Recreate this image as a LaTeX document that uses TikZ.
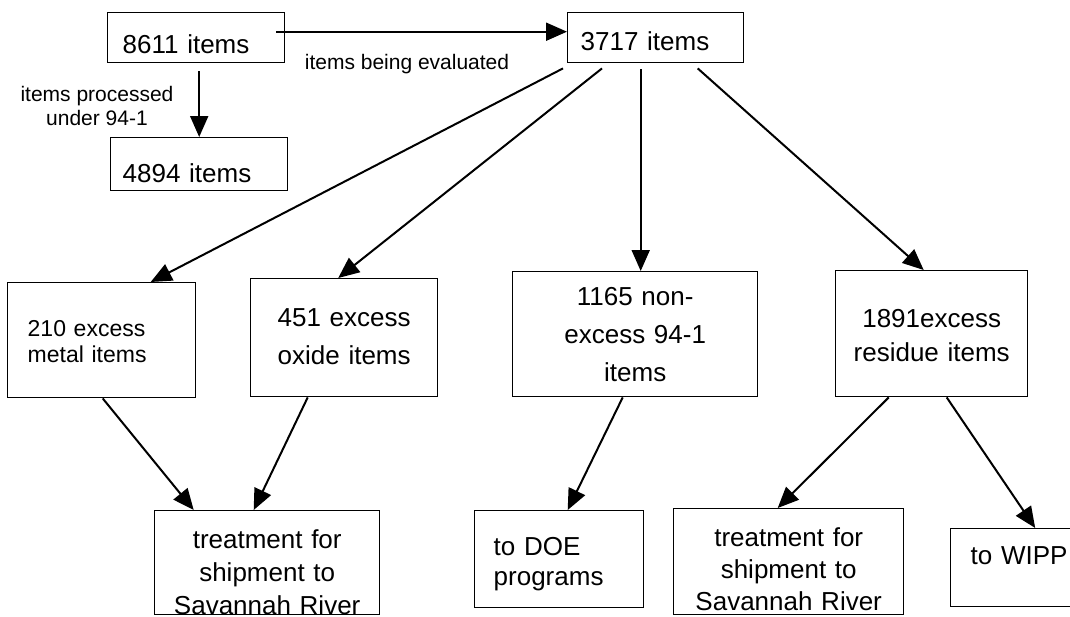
\documentclass[tikz,border=0pt]{standalone}
\usepackage{fontspec}
\setmainfont{Liberation Sans}
\usetikzlibrary{arrows.meta}

\begin{document}
\begin{tikzpicture}[x=1pt,y=-1pt,
  box/.style={draw,line width=1.4pt,anchor=north west,inner ysep=0pt,inner xsep=0pt},
  big/.style={font=\fontsize{26}{33}\selectfont},
  arr/.style={line width=2pt,-{Triangle[length=21pt,width=18pt]}},
  note/.style={font=\fontsize{21}{24}\selectfont,align=center}]
\useasboundingbox[fill=white] (0,0) rectangle (1070,616);
% top row
\node[box,big,align=left,inner xsep=15pt,text width=147pt,text height=41pt,text depth=9pt] (n8611) at (107,12) {8611 items};
\node[box,big,align=left,inner xsep=13pt,text width=150pt,text height=38pt,text depth=12pt] (n3717) at (567,12) {3717 items};
\node[box,big,align=left,inner xsep=12pt,text width=153pt,text height=45pt,text depth=8pt] (n4894) at (110,137) {4894 items};
\node[note] (lblproc) at (97,106) {items processed\\under 94-1};
\node[note] (lbleval) at (407,64) {items being evaluated};
% middle row
\node[box,font=\fontsize{23}{26}\selectfont,align=left,inner xsep=20pt,text width=148pt,text height=54pt,text depth=61pt] (n210) at (7,282) {210 excess\\metal items};
\node[box,font=\fontsize{26}{38}\selectfont,align=center,text width=187pt,text height=48pt,text depth=70pt] (n451) at (250,278) {451 excess\\oxide items};
\node[box,font=\fontsize{26}{38}\selectfont,align=center,text width=245pt,text height=34pt,text depth=91pt] (n1165) at (512,271) {1165 non-\\excess 94-1\\items};
\node[box,font=\fontsize{26}{34}\selectfont,align=center,text width=192pt,text height=57pt,text depth=69pt] (n1891) at (835,270) {1891excess\\residue items};
% bottom row
\node[box,big,align=center,text width=225pt,text height=38pt,text depth=66pt] (nsr1) at (154,510) {treatment for\\shipment to\\Savannah River};
\node[box,font=\fontsize{26}{30}\selectfont,align=left,inner xsep=19pt,text width=131pt,text height=45pt,text depth=52pt] (ndoe) at (474,510) {to DOE\\programs};
\node[box,font=\fontsize{26}{32}\selectfont,align=center,text width=230pt,text height=38pt,text depth=68pt] (nsr2) at (673,508) {treatment for\\shipment to\\Savannah River};
\node[box,big,align=left,inner xsep=20pt,text width=110pt,text height=36pt,text depth=42pt] (nwipp) at (950,528) {to WIPP};
% arrows
\draw[arr] ([shift={(3,8)}]n8611.south) -- (n4894.north);
\draw[arr] ([shift={(-9,-6)}]n8611.east) -- ([shift={(0,-6)}]n3717.west);
\draw[arr] ([shift={(-4,5)}]n3717.south west) -- ([shift={(49,0)}]n210.north);
\draw[arr] ([shift={(35,5)}]n3717.south west) -- ([shift={(-6,0)}]n451.north);
\draw[arr] ([shift={(-15,6)}]n3717.south) -- ([shift={(5.5,0)}]n1165.north);
\draw[arr] ([shift={(42,5)}]n3717.south) -- ([shift={(-8,0)}]n1891.north);
\draw[arr] ([shift={(1,0)}]n210.south) -- ([shift={(-73.5,0)}]nsr1.north);
\draw[arr] ([shift={(-36.5,0)}]n451.south) -- ([shift={(-13.5,0)}]nsr1.north);
\draw[arr] ([shift={(-12.5,0)}]n1165.south) -- ([shift={(8.5,0)}]ndoe.north);
\draw[arr] ([shift={(-43,0)}]n1891.south) -- ([shift={(-11,0)}]nsr2.north);
\draw[arr] ([shift={(15,0)}]n1891.south) -- ([shift={(9.5,0)}]nwipp.north);
\end{tikzpicture}
\end{document}
